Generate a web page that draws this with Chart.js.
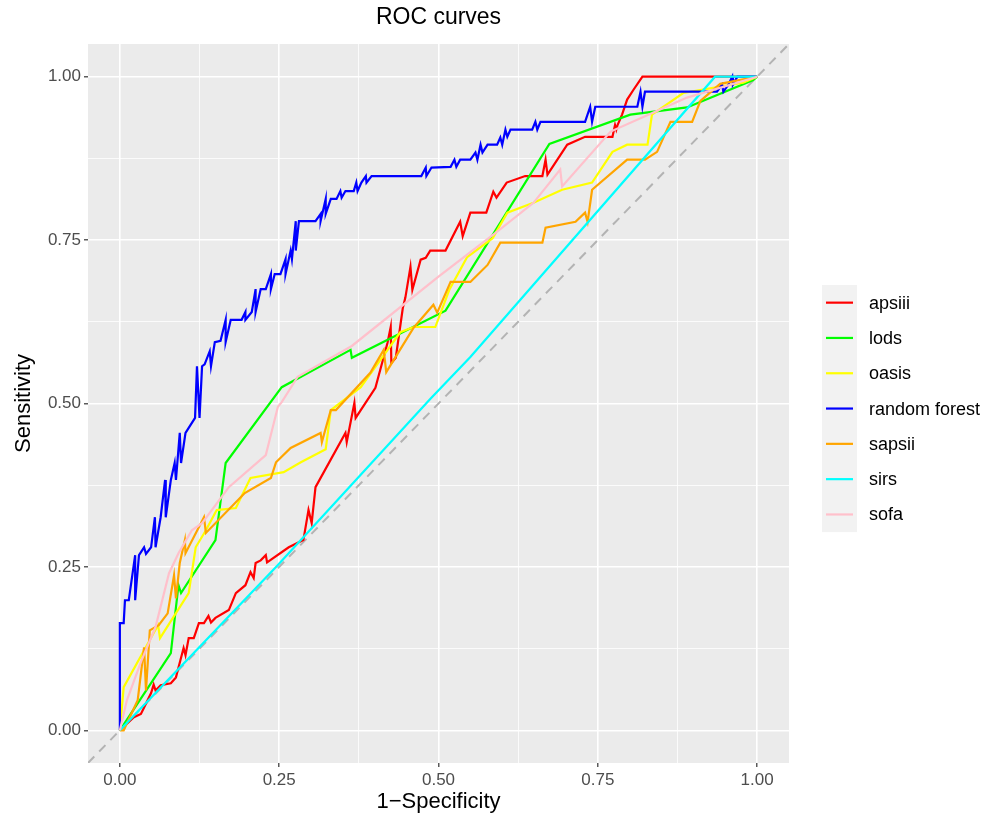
<!DOCTYPE html>
<html lang="en">
<head>
    <meta charset="UTF-8">
    <title>ROC curves</title>
    <script src="https://cdn.jsdelivr.net/npm/chart.js"></script>
    <style>
        body { margin: 0; background: #fff; }
    </style>
</head>
<body>
    <canvas id="rocChart" width="1001" height="820"></canvas>

    <script>
        // ROC points: false positive rate / true positive rate
        var apsiiiFpr = [0,0.022,0.033,0.038,0.049,0.053,0.056,0.064,0.080,0.088,0.092,0.100,0.103,0.108,0.116,0.124,0.132,0.139,0.143,0.150,0.171,0.182,0.197,0.205,0.210,0.213,0.221,0.229,0.231,0.265,0.288,0.296,0.301,0.307,0.354,0.356,0.368,0.370,0.401,0.420,0.425,0.426,0.433,0.444,0.448,0.456,0.459,0.472,0.480,0.487,0.511,0.534,0.538,0.550,0.575,0.586,0.591,0.607,0.636,0.663,0.668,0.671,0.702,0.730,0.773,0.777,0.779,0.781,0.788,0.796,0.806,0.820,1];
        var apsiiiTpr = [0,0.020,0.025,0.035,0.057,0.070,0.061,0.069,0.072,0.081,0.096,0.126,0.115,0.141,0.141,0.164,0.164,0.175,0.165,0.172,0.184,0.210,0.222,0.242,0.233,0.256,0.260,0.268,0.257,0.280,0.291,0.337,0.317,0.372,0.455,0.441,0.501,0.478,0.524,0.593,0.617,0.562,0.570,0.646,0.662,0.709,0.674,0.720,0.723,0.734,0.734,0.778,0.756,0.792,0.792,0.824,0.815,0.838,0.848,0.848,0.873,0.850,0.896,0.908,0.908,0.926,0.919,0.926,0.942,0.965,0.980,1,1];

        var lodsFpr = [0,0.080,0.088,0.092,0.096,0.150,0.166,0.254,0.362,0.364,0.511,0.674,0.801,0.890,0.994,1];
        var lodsTpr = [0,0.118,0.188,0.222,0.210,0.291,0.409,0.525,0.582,0.570,0.642,0.897,0.942,0.953,0.995,1];

        var oasisFpr = [0,0.006,0.060,0.063,0.108,0.119,0.135,0.152,0.182,0.205,0.257,0.284,0.323,0.331,0.378,0.440,0.461,0.495,0.517,0.545,0.585,0.608,0.649,0.694,0.741,0.773,0.796,0.828,0.835,0.884,0.978,1];
        var oasisTpr = [0,0.066,0.161,0.141,0.210,0.280,0.306,0.337,0.340,0.386,0.395,0.410,0.430,0.490,0.525,0.609,0.617,0.617,0.674,0.724,0.753,0.792,0.807,0.827,0.838,0.885,0.896,0.896,0.942,0.975,0.991,1];

        var forestFpr = [0,0,0.006,0.008,0.014,0.024,0.024,0.030,0.038,0.041,0.049,0.055,0.056,0.064,0.071,0.072,0.080,0.086,0.088,0.094,0.096,0.103,0.118,0.121,0.125,0.129,0.133,0.141,0.143,0.149,0.158,0.166,0.166,0.174,0.191,0.197,0.197,0.207,0.213,0.213,0.221,0.229,0.237,0.237,0.243,0.252,0.260,0.260,0.268,0.270,0.276,0.276,0.281,0.307,0.315,0.315,0.323,0.323,0.331,0.340,0.346,0.348,0.354,0.367,0.371,0.373,0.379,0.386,0.387,0.395,0.473,0.480,0.481,0.489,0.519,0.525,0.528,0.534,0.550,0.558,0.561,0.566,0.569,0.577,0.592,0.597,0.600,0.605,0.608,0.613,0.647,0.652,0.655,0.660,0.730,0.738,0.741,0.746,0.812,0.817,0.820,0.824,0.937,0.945,0.947,0.955,0.961,0.962,0.969,1];
        var forestTpr = [0,0.164,0.164,0.199,0.199,0.268,0.199,0.268,0.280,0.270,0.280,0.326,0.280,0.326,0.383,0.326,0.383,0.409,0.383,0.455,0.409,0.455,0.478,0.557,0.478,0.557,0.560,0.580,0.557,0.594,0.596,0.628,0.594,0.628,0.628,0.640,0.628,0.640,0.675,0.640,0.675,0.675,0.698,0.675,0.698,0.698,0.721,0.698,0.734,0.721,0.779,0.734,0.779,0.779,0.790,0.779,0.813,0.790,0.813,0.813,0.825,0.815,0.825,0.825,0.838,0.825,0.838,0.848,0.838,0.848,0.848,0.861,0.848,0.861,0.862,0.873,0.862,0.873,0.873,0.884,0.873,0.896,0.884,0.896,0.896,0.907,0.896,0.919,0.908,0.919,0.919,0.931,0.919,0.931,0.931,0.954,0.931,0.954,0.954,0.977,0.954,0.977,0.977,0.988,0.977,0.988,1,0.988,1,1];

        var sapsiiFpr = [0,0.006,0.028,0.038,0.041,0.047,0.061,0.075,0.085,0.088,0.094,0.102,0.103,0.132,0.135,0.196,0.237,0.245,0.268,0.315,0.317,0.331,0.339,0.393,0.414,0.418,0.461,0.492,0.498,0.519,0.550,0.577,0.597,0.663,0.668,0.715,0.730,0.734,0.741,0.796,0.824,0.843,0.864,0.898,0.911,0.942,1];
        var sapsiiTpr = [0,0,0.046,0.127,0.061,0.153,0.161,0.179,0.237,0.202,0.256,0.291,0.271,0.326,0.302,0.363,0.386,0.410,0.432,0.455,0.441,0.490,0.490,0.547,0.582,0.548,0.616,0.651,0.639,0.686,0.686,0.712,0.746,0.746,0.769,0.778,0.792,0.778,0.827,0.873,0.873,0.885,0.931,0.931,0.963,0.989,1];

        var sirsFpr = [0,0.248,0.487,0.550,0.934,1];
        var sirsTpr = [0,0.253,0.507,0.571,1,1];

        var sofaFpr = [0,0.011,0.034,0.056,0.077,0.092,0.113,0.129,0.171,0.229,0.248,0.254,0.279,0.364,0.500,0.592,0.649,0.691,0.694,0.770,0.832,0.890,1];
        var sofaTpr = [0,0.046,0.107,0.158,0.240,0.271,0.306,0.317,0.372,0.421,0.495,0.502,0.541,0.588,0.694,0.763,0.807,0.858,0.832,0.916,0.943,0.968,1];

        // series names and colours, in legend order
        var seriesNames = ['apsiii', 'lods', 'oasis', 'random forest', 'sapsii', 'sirs', 'sofa'];
        var seriesColors = ['#FF0000', '#00FF00', '#FFFF00', '#0000FF', '#FFA500', '#00FFFF', '#FFC0CB'];
        var seriesFpr = [apsiiiFpr, lodsFpr, oasisFpr, forestFpr, sapsiiFpr, sirsFpr, sofaFpr];
        var seriesTpr = [apsiiiTpr, lodsTpr, oasisTpr, forestTpr, sapsiiTpr, sirsTpr, sofaTpr];

        // axis ticks (same on both axes)
        var axisTicks = [0, 0.25, 0.5, 0.75, 1];
        var axisTickLabels = ['0.00', '0.25', '0.50', '0.75', '1.00'];

        // reference diagonal
        var diagX = [-0.05, 1.05];
        var diagY = [-0.05, 1.05];

        var FONT = '"Liberation Sans", Arial, sans-serif';

        function toPoints(xs, ys) {
            var pts = [];
            for (var i = 0; i < Math.min(xs.length, ys.length); i++) {
                pts.push({ x: xs[i], y: ys[i] });
            }
            return pts;
        }

        // major + minor grid positions
        var gridValues = [];
        axisTicks.forEach(function (v, i) {
            gridValues.push(v);
            if (i < axisTicks.length - 1) gridValues.push((v + axisTicks[i + 1]) / 2);
        });

        function isMajor(v) {
            return axisTicks.some(function (t) { return Math.abs(t - v) < 1e-9; });
        }

        var datasets = seriesNames.map(function (name, i) {
            return {
                label: name,
                data: toPoints(seriesFpr[i], seriesTpr[i]),
                borderColor: seriesColors[i],
                borderWidth: 2.2,
                showLine: true,
                pointRadius: 0,
                tension: 0,
                order: seriesNames.length - i
            };
        });
        datasets.push({
            label: 'diagonal',
            data: toPoints(diagX, diagY),
            borderColor: '#B3B3B3',
            borderWidth: 2,
            borderDash: [9, 7],
            showLine: true,
            pointRadius: 0,
            order: 20
        });

        // grey panel behind the plot
        var panelBackground = {
            id: 'panelBackground',
            beforeDraw: function (chart) {
                var a = chart.chartArea;
                var c = chart.ctx;
                c.save();
                c.fillStyle = '#EBEBEB';
                c.fillRect(a.left, a.top, a.right - a.left, a.bottom - a.top);
                c.restore();
            }
        };

        // ggplot-like legend at the right
        var sideLegend = {
            id: 'sideLegend',
            afterDraw: function (chart) {
                var c = chart.ctx;
                var keyLeft = 822, keyW = 35, keyH = 35.3, top = 285;
                c.save();
                c.fillStyle = '#F2F2F2';
                c.fillRect(keyLeft, top, keyW, keyH * seriesNames.length);
                c.font = '18px ' + FONT;
                c.textBaseline = 'middle';
                seriesNames.forEach(function (name, i) {
                    var y = top + keyH * i + keyH / 2;
                    c.strokeStyle = seriesColors[i];
                    c.lineWidth = 2.2;
                    c.beginPath();
                    c.moveTo(keyLeft + 4, y);
                    c.lineTo(keyLeft + keyW - 4, y);
                    c.stroke();
                    c.fillStyle = '#000';
                    c.fillText(name, keyLeft + keyW + 12, y + 1);
                });
                c.restore();
            }
        };

        function axisOptions(titleText, isX) {
            return {
                type: 'linear',
                min: -0.05,
                max: 1.05,
                afterBuildTicks: function (scale) {
                    scale.ticks = gridValues.map(function (v) { return { value: v }; });
                },
                afterFit: function (scale) {
                    if (isX) scale.height = 57; else scale.width = 88;
                },
                ticks: {
                    autoSkip: false,
                    maxRotation: 0,
                    padding: 3,
                    color: '#4D4D4D',
                    font: { family: FONT, size: 17 },
                    callback: function (value) {
                        var idx = axisTicks.findIndex(function (t) { return Math.abs(t - value) < 1e-9; });
                        return idx >= 0 ? axisTickLabels[idx] : '';
                    }
                },
                grid: {
                    color: '#FFFFFF',
                    lineWidth: function (ctx) { return isMajor(ctx.tick.value) ? 1.6 : 0.8; },
                    drawTicks: true,
                    tickLength: 4,
                    tickColor: function (ctx) { return isMajor(ctx.tick.value) ? '#333333' : 'rgba(0,0,0,0)'; },
                    tickWidth: 1.2
                },
                border: { display: false },
                title: {
                    display: true,
                    text: titleText,
                    color: '#000',
                    font: { family: FONT, size: 22 },
                    padding: isX ? { top: 0, bottom: 5 } : { top: 11, bottom: 0 }
                }
            };
        }

        var ctx = document.getElementById('rocChart').getContext('2d');
        var rocChart = new Chart(ctx, {
            type: 'scatter',
            data: { datasets: datasets },
            options: {
                responsive: false,
                animation: false,
                layout: { padding: { top: 0, right: 212, bottom: 0, left: 0 } },
                plugins: {
                    legend: { display: false },
                    tooltip: { enabled: false },
                    title: {
                        display: true,
                        text: 'ROC curves',
                        fullSize: false,
                        color: '#000',
                        font: { family: FONT, size: 23, weight: 'normal' },
                        padding: { top: 4, bottom: 12.4 }
                    }
                },
                scales: {
                    x: axisOptions('1\u2212Specificity', true),
                    y: axisOptions('Sensitivity', false)
                }
            },
            plugins: [panelBackground, sideLegend]
        });
    </script>
</body>
</html>
